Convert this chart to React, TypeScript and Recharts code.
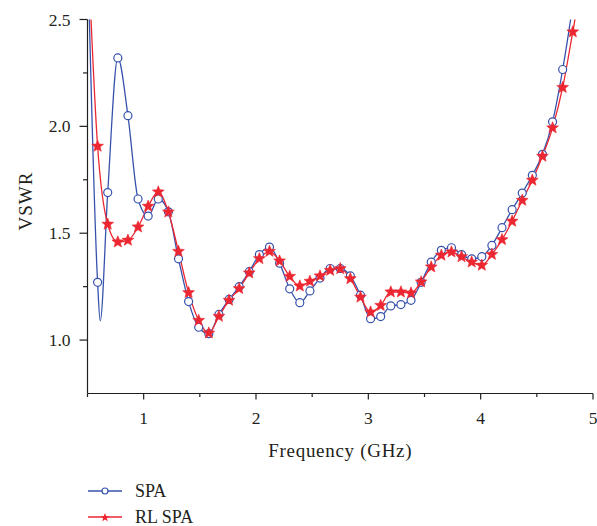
import { ComposedChart, Line, Scatter, XAxis, YAxis } from 'recharts'

const BLUE = '#3752ad'
const RED = '#ec2731'
const INK = '#231f20'
const FONT = '"Liberation Serif", "Times New Roman", serif'

// frequencies where the markers sit (GHz)
const freqGHz = [
  0.59, 0.68, 0.77, 0.86, 0.95, 1.04, 1.13, 1.22, 1.31, 1.4, 1.49, 1.58, 1.67, 1.76, 1.85, 1.94,
  2.03, 2.12, 2.21, 2.3, 2.39, 2.48, 2.57, 2.66, 2.75, 2.84, 2.93, 3.02, 3.11, 3.2, 3.29, 3.38,
  3.47, 3.56, 3.65, 3.74, 3.83, 3.92, 4.01, 4.1, 4.19, 4.28, 4.37, 4.46, 4.55, 4.64, 4.73, 4.82,
]

// SPA has no visible marker at 4.82 (it is above the top of the axis)
const spaVswr = [
  1.27, 1.69, 2.32, 2.05, 1.66, 1.58, 1.66, 1.6, 1.38, 1.18, 1.06, 1.03, 1.12, 1.19, 1.25, 1.32,
  1.4, 1.435, 1.36, 1.24, 1.175, 1.23, 1.29, 1.335, 1.335, 1.3, 1.21, 1.1, 1.11, 1.16, 1.166, 1.186,
  1.27, 1.365, 1.42, 1.432, 1.4, 1.38, 1.39, 1.443, 1.526, 1.61, 1.688, 1.771, 1.869, 2.021, 2.266,
]

const rlSpaVswr = [
  1.907, 1.542, 1.459, 1.467, 1.529, 1.626, 1.693, 1.599, 1.415, 1.222, 1.092, 1.033, 1.111, 1.186, 1.241, 1.314,
  1.381, 1.415, 1.37, 1.298, 1.253, 1.275, 1.3, 1.326, 1.334, 1.287, 1.201, 1.131, 1.162, 1.225, 1.225, 1.22,
  1.272, 1.342, 1.397, 1.412, 1.39, 1.365, 1.35, 1.401, 1.47, 1.556, 1.654, 1.748, 1.86, 1.993, 2.182, 2.442,
]

// points the curves pass through without a marker (ends leaving the plot, SPA's deep dip)
const spaCurveFreq = [0.5, 0.613, 4.82, 4.88]
const spaCurveVswr = [2.85, 1.09, 2.57, 2.8]
const rlSpaCurveFreq = [0.5, 4.88]
const rlSpaCurveVswr = [2.88, 2.62]

const xTicks = [0.5, 1, 1.5, 2, 2.5, 3, 3.5, 4, 4.5, 5]
const yTicks = [1, 1.25, 1.5, 1.75, 2, 2.25, 2.5]

type Pt = { f: number; v: number }

const toPoints = (fs: number[], vs: number[]): Pt[] =>
  vs.map((v, i) => ({ f: fs[i], v }))

const spaMarks = toPoints(freqGHz, spaVswr)
const rlSpaMarks = toPoints(freqGHz, rlSpaVswr)
const spaCurve = [...spaMarks, ...toPoints(spaCurveFreq, spaCurveVswr)].sort((a, b) => a.f - b.f)
const rlSpaCurve = [...rlSpaMarks, ...toPoints(rlSpaCurveFreq, rlSpaCurveVswr)].sort((a, b) => a.f - b.f)

function starPoints(cx: number, cy: number, R: number, r: number) {
  const pts: string[] = []
  for (let i = 0; i < 10; i++) {
    const rad = i % 2 === 0 ? R : r
    const a = -Math.PI / 2 + (i * Math.PI) / 5
    pts.push(`${cx + rad * Math.cos(a)},${cy + rad * Math.sin(a)}`)
  }
  return pts.join(' ')
}

const CircleMark = (p: any) => (
  <circle cx={p.cx} cy={p.cy} r={4} fill="#fff" stroke={BLUE} strokeWidth={1.2} />
)

const StarMark = (p: any) => <polygon points={starPoints(p.cx, p.cy, 6.2, 2.7)} fill={RED} stroke={RED} strokeWidth={0.6} />

const isMajor = (v: number, step: number) => Math.abs(v / step - Math.round(v / step)) < 1e-6

function XTick({ x, y, payload }: any) {
  const major = isMajor(payload.value, 1)
  return (
    <g>
      <line x1={x} x2={x} y1={y} y2={y + (major ? 6 : 3.5)} stroke={INK} strokeWidth={1.2} />
      {major && (
        <text x={x} y={y + 24} dy="0.35em" textAnchor="middle" fontSize={17.5} fontFamily={FONT} fill={INK}>
          {payload.value}
        </text>
      )}
    </g>
  )
}

function YTick({ x, y, payload }: any) {
  const major = isMajor(payload.value, 0.5)
  return (
    <g>
      <line x1={x - (major ? 8 : 4.5)} x2={x} y1={y} y2={y} stroke={INK} strokeWidth={1.2} />
      {major && (
        <text x={x - 17} y={y} dy="0.35em" textAnchor="end" fontSize={17.5} fontFamily={FONT} fill={INK}>
          {payload.value.toFixed(1)}
        </text>
      )}
    </g>
  )
}

export default function App() {
  return (
    <div style={{ position: 'absolute', left: 0, top: 0, width: 597, height: 526, background: '#fff' }}>
      <ComposedChart width={597} height={526} margin={{ top: 19.5, right: 4, bottom: 0, left: 27.5 }}>
        <XAxis
          type="number"
          dataKey="f"
          domain={[0.5, 5]}
          allowDataOverflow
          ticks={xTicks}
          interval={0}
          height={132.5}
          tickSize={0}
          tickMargin={0}
          tick={<XTick />}
          axisLine={{ stroke: INK, strokeWidth: 1.2 }}
          label={{
            content: ({ viewBox }: any) => (
              <text
                x={viewBox.x + viewBox.width / 2}
                y={viewBox.y + 56.5}
                dy="0.35em"
                textAnchor="middle"
                fontSize={19}
                letterSpacing={0.7}
                fontFamily={FONT}
                fill={INK}
              >
                Frequency (GHz)
              </text>
            ),
          }}
        />
        <YAxis
          type="number"
          dataKey="v"
          domain={[0.75, 2.5]}
          allowDataOverflow
          ticks={yTicks}
          interval={0}
          width={60}
          tickSize={0}
          tickMargin={0}
          tick={<YTick />}
          axisLine={{ stroke: INK, strokeWidth: 1.2 }}
          label={{
            content: ({ viewBox }: any) => {
              const cx = viewBox.x + 4.2
              const cy = viewBox.y + viewBox.height / 2 - 5.5
              return (
                <text
                  x={cx}
                  y={cy}
                  textAnchor="middle"
                  transform={`rotate(-90, ${cx}, ${cy})`}
                  fontSize={19}
                  letterSpacing={1}
                  fontFamily={FONT}
                  fill={INK}
                >
                  VSWR
                </text>
              )
            },
          }}
        />
        <Line data={spaCurve} dataKey="v" type="monotone" stroke={BLUE} strokeWidth={1.3} dot={false} isAnimationActive={false} />
        <Scatter data={spaMarks} dataKey="v" shape={<CircleMark />} isAnimationActive={false} />
        <Line data={rlSpaCurve} dataKey="v" type="monotone" stroke={RED} strokeWidth={1.3} dot={false} isAnimationActive={false} />
        <Scatter data={rlSpaMarks} dataKey="v" shape={<StarMark />} isAnimationActive={false} />
      </ComposedChart>

      <svg width={200} height={60} style={{ position: 'absolute', left: 80, top: 476 }}>
        <line x1={8} x2={42} y1={15} y2={15} stroke={BLUE} strokeWidth={1.3} />
        <circle cx={25} cy={15} r={3} fill="#fff" stroke={BLUE} strokeWidth={1.2} />
        <text x={55} y={15} dy="0.35em" fontSize={18} fontFamily={FONT} fill={INK}>
          SPA
        </text>
        <line x1={8} x2={42} y1={41} y2={41} stroke={RED} strokeWidth={1.3} />
        <polygon points={starPoints(25, 41.5, 4.6, 2)} fill={RED} />
        <text x={55} y={41} dy="0.35em" fontSize={18} fontFamily={FONT} fill={INK}>
          RL SPA
        </text>
      </svg>
    </div>
  )
}
